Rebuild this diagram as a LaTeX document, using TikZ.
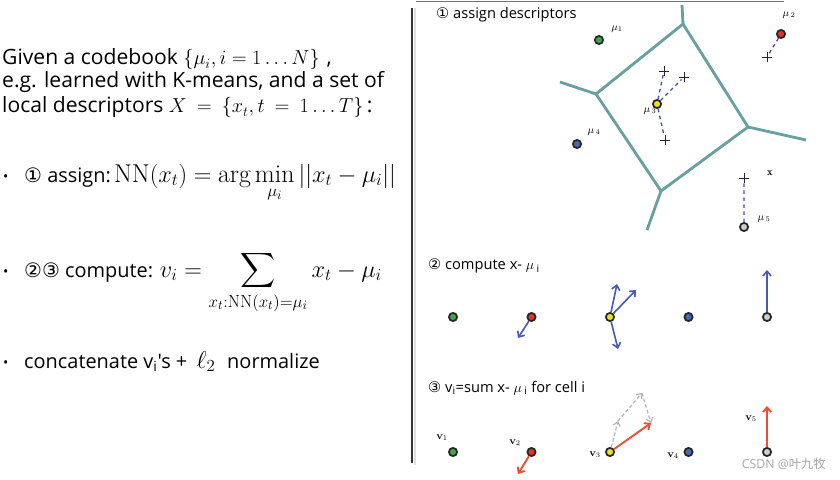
\documentclass[tikz,border=0pt]{standalone}
\usepackage{amsmath}
\usepackage{fontspec}
\usepackage{tikz}
\usetikzlibrary{arrows.meta,shapes.misc}

\newfontfamily\txtfont{Open Sans}
\newfontfamily\symfont{DejaVu Sans}
\newfontfamily\cjkfont{Noto Sans CJK SC}

\definecolor{cellteal}{RGB}{104,160,160}
\definecolor{asgblue}{RGB}{60,80,180}
\definecolor{difblue}{RGB}{72,92,178}
\definecolor{sumred}{RGB}{236,78,52}
\definecolor{partgray}{RGB}{178,178,178}
\definecolor{dotg}{RGB}{70,165,70}
\definecolor{dotr}{RGB}{232,48,38}
\definecolor{doty}{RGB}{235,225,40}
\definecolor{dotb}{RGB}{72,105,175}
\definecolor{dotw}{RGB}{205,205,205}

\tikzset{
  bigtext/.style={anchor=base west,inner sep=0pt,font=\txtfont\fontsize{17}{20}\selectfont},
  introtext/.style={bigtext,font=\txtfont\fontsize{18}{21}\selectfont},
  bulletdot/.style={bigtext,font=\txtfont\fontsize{12}{14}\selectfont},
  paneltitle/.style={anchor=west,inner sep=0pt,font=\txtfont\fontsize{12.5}{15}\selectfont},
  smalllabel/.style={inner sep=0pt,font=\fontsize{9}{10}\selectfont},
  dotnode/.style={circle,draw=black!85,line width=1.5pt,minimum size=7pt,inner sep=0pt},
  crossnode/.style={cross out,draw=black!85,line width=0.8pt,minimum size=5pt,inner sep=0pt,rotate=45},
  cellline/.style={cellteal,line width=2.4pt,line join=round},
  asgline/.style={asgblue,dashed,line width=1.1pt},
  diffarrow/.style={difblue,line width=1.4pt,-{Straight Barb[length=4pt,width=7pt]}},
  sumarrow/.style={sumred,line width=1.6pt,-{Straight Barb[length=4pt,width=7pt]}},
  partarrow/.style={partgray,densely dashed,line width=1pt,-{Straight Barb[length=3.5pt,width=6pt]}}
}

\newcommand{\midmath}[1]{{\fontsize{18.5}{22}\selectfont$#1$}}
\newcommand{\bigmath}[2][21.5]{{\fontsize{#1}{25}\selectfont$\displaystyle #2$}}

\begin{document}
\begin{tikzpicture}[x=0.03cm,y=-0.03cm]
\useasboundingbox (0,0) rectangle (840,480);

% Left column
\node[introtext] (intro1) at (2,65) {Given a codebook \midmath{\{\mu_i, i=1\ldots N\}}\,\,,};
\node[introtext] (intro2) at (2,88) {e.g. learned with K-means, and a set of};
\node[introtext] (intro3) at (2,113) {local descriptors \midmath{X\:=\:\{x_t, t\:=\:1\ldots T\}}\,:};

\node[bulletdot] (bul1) at (3,181) {\textbullet};
\node[bigtext] (step1) at (24,182) {{\symfont ①} assign:\,\bigmath[22]{\mathrm{NN}(x_t)=\arg\min_{\mu_i}||x_t-\mu_i||}};

\node[bulletdot] (bul2) at (3,276) {\textbullet};
\node[bigtext] (step2) at (24,277) {{\symfont ②③} compute: \bigmath{v_i=\sum_{x_t:\mathrm{NN}(x_t)=\mu_i} x_t-\mu_i}};

\node[bulletdot] (bul3) at (3,367) {\textbullet};
\node[bigtext] (step3) at (24,368) {concatenate v$_\text{i}$'s + \bigmath{\,\ell_2}\,\, normalize};

% Divider
\draw[black!12,line width=2.5pt] (415,8) -- (415,465);
\draw[black!80,line width=1.6pt] (412,8) -- (412,463);
\draw[black!55,line width=1pt] (416,1.5) -- (784,1.5);

% Panel 1: assign descriptors
\node[paneltitle] (t1) at (436,15) {{\symfont ①} assign descriptors};

\coordinate (vt) at (683,24);
\coordinate (vr) at (748,127);
\coordinate (vb) at (661,191);
\coordinate (vl) at (596,94);
\draw[cellline] (vt) -- (vr) -- (vb) -- (vl) -- cycle;
\draw[cellline] (vt) -- (682,5);
\draw[cellline] (vr) -- (806,140);
\draw[cellline] (vb) -- (647,230);
\draw[cellline] (vl) -- (560,82);

\node[dotnode,fill=dotg] (mu1) at (599,40) {};
\node[dotnode,fill=dotr] (mu2) at (781,34) {};
\node[dotnode,fill=doty] (mu3) at (657,104) {};
\node[dotnode,fill=dotb] (mu4) at (577,144) {};
\node[dotnode,fill=dotw] (mu5) at (744,227) {};

\node[smalllabel] (lmu1) at (617,29) {$\mu_1$};
\node[smalllabel] (lmu2) at (789,15) {$\mu_{\,2}$};
\node[smalllabel] (lmu3) at (650,111) {$\mu_{\,3}$};
\node[smalllabel] (lmu4) at (594,132) {$\mu_{\,4}$};
\node[smalllabel] (lmu5) at (764,219) {$\mu_{\,5}$};
\node[smalllabel] (lx) at (770,173) {$\mathbf{x}$};

\node[crossnode] (x2) at (767,57) {};
\node[crossnode] (x3a) at (664,71) {};
\node[crossnode] (x3b) at (684,77) {};
\node[crossnode] (x3c) at (665,140) {};
\node[crossnode] (x5) at (744,178) {};

\draw[asgline] (mu2) -- (x2);
\draw[asgline] (mu3) -- (x3a);
\draw[asgline] (mu3) -- (x3b);
\draw[asgline] (mu3) -- (x3c);
\draw[asgline] (mu5) -- (x5);

% Panel 2: compute x - mu_i
\node[paneltitle] (t2) at (428,266) {{\symfont ②} compute x- $\mu$\,$_\text{i}$};

\foreach \c [count=\i] in {g,r,y,b,w}
  \node[dotnode,fill=dot\c] (p\i) at ({453+78.5*(\i-1)},317) {};

\coordinate (d2) at (518,338);
\coordinate (d3a) at (617,284);
\coordinate (d3b) at (636,290);
\coordinate (d3c) at (618,349);
\coordinate (d5) at (767,270);
\draw[diffarrow] (p2) -- (d2);
\draw[diffarrow] (p3) -- (d3a);
\draw[diffarrow] (p3) -- (d3b);
\draw[diffarrow] (p3) -- (d3c);
\draw[diffarrow] (p5) -- (d5);

% Panel 3: v_i = sum
\node[paneltitle] (t3) at (428,388) {{\symfont ③} v$_\text{i}$=sum x- $\mu$\,$_\text{i}$ for cell i};

\foreach \c [count=\i] in {g,r,y,b,w}
  \node[dotnode,fill=dot\c] (q\i) at ({453+78.5*(\i-1)},452) {};

\node[smalllabel] (v1) at (442,438) {\textbf{v}$_1$};
\node[smalllabel] (v2) at (515,443) {\textbf{v}$_2$};
\node[smalllabel] (v3) at (595,455) {\textbf{v}$_3$};
\node[smalllabel] (v4) at (673,456) {\textbf{v}$_4$};
\node[smalllabel] (v5) at (751,419) {\textbf{v}$_5$};

\coordinate (s1) at (618,421);
\coordinate (s2) at (642,393);
\coordinate (s3) at (651,423);
\draw[partarrow] (q3) -- (s1);
\draw[partarrow] (s1) -- (s2);
\draw[partarrow] (s2) -- (s3);

\coordinate (e2) at (518,474);
\coordinate (e5) at (767,406);
\draw[sumarrow] (q2) -- (e2);
\draw[sumarrow] (q3) -- (s3);
\draw[sumarrow] (q5) -- (e5);

% Watermark
\node[anchor=east,inner sep=0pt,text=black!35,font=\fontsize{10.5}{12}\selectfont] (wm) at (826,464) {{\txtfont CSDN @}{\cjkfont 叶九牧}};

\end{tikzpicture}
\end{document}
